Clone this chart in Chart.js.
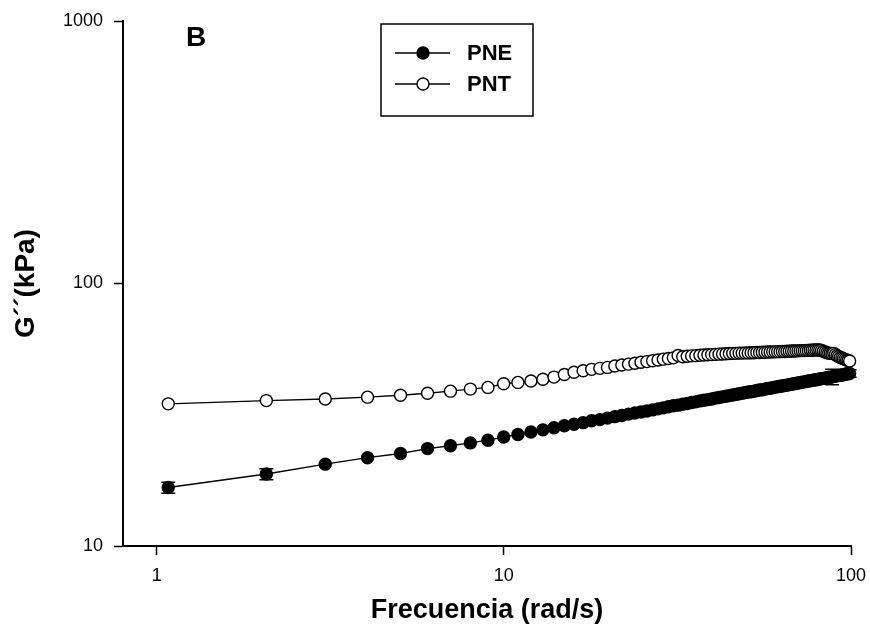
<!DOCTYPE html>
<html>
<head>
<meta charset="utf-8">
<script src="https://cdn.jsdelivr.net/npm/chart.js@4/dist/chart.umd.min.js"></script>
<style>
  html, body { margin: 0; padding: 0; background: #fff; }
  #wrap { width: 870px; height: 641px; }
</style>
</head>
<body>
<div id="wrap"><canvas id="c" width="870" height="641"></canvas></div>
<script>
// Angular frequency sweep (rad/s)
const freq = [
  1.08, 2.07, 3.06, 4.05, 5.04, 6.03, 7.02, 8.01, 9.00, 9.99,
  10.98, 11.97, 12.96, 13.95, 14.94, 15.93, 16.92, 17.91, 18.90, 19.89,
  20.88, 21.87, 22.86, 23.85, 24.84, 25.83, 26.82, 27.81, 28.80, 29.79,
  30.78, 31.77, 32.76, 33.75, 34.74, 35.73, 36.72, 37.71, 38.70, 39.69,
  40.68, 41.67, 42.66, 43.65, 44.64, 45.63, 46.62, 47.61, 48.60, 49.59,
  50.58, 51.57, 52.56, 53.55, 54.54, 55.53, 56.52, 57.51, 58.50, 59.49,
  60.48, 61.47, 62.46, 63.45, 64.44, 65.43, 66.42, 67.41, 68.40, 69.39,
  70.38, 71.37, 72.36, 73.35, 74.34, 75.33, 76.32, 77.31, 78.30, 79.29,
  80.28, 81.27, 82.26, 83.25, 84.24, 85.23, 86.22, 87.21, 88.20, 89.19,
  90.18, 91.17, 92.16, 93.15, 94.14, 95.13, 96.12, 97.11, 98.10, 99.09
];

// Loss modulus G'' (kPa)
const pne = [
  16.7, 18.8, 20.5, 21.7, 22.5, 23.5, 24.1, 24.7, 25.3, 26.0,
  26.6, 27.2, 27.7, 28.2, 28.7, 29.1, 29.5, 30.0, 30.3, 30.7,
  31.1, 31.4, 31.8, 32.1, 32.4, 32.7, 33.0, 33.3, 33.6, 33.9,
  34.2, 34.4, 34.7, 34.9, 35.2, 35.4, 35.7, 35.9, 36.1, 36.3,
  36.6, 36.8, 37.0, 37.2, 37.4, 37.6, 37.8, 38.0, 38.2, 38.4,
  38.6, 38.7, 38.9, 39.1, 39.3, 39.4, 39.6, 39.8, 39.9, 40.1,
  40.3, 40.4, 40.6, 40.7, 40.9, 41.0, 41.2, 41.3, 41.5, 41.6,
  41.8, 41.9, 42.1, 42.2, 42.3, 42.5, 42.6, 42.7, 42.9, 43.0,
  43.1, 43.3, 43.4, 43.5, 43.6, 43.8, 43.9, 44.0, 44.1, 44.2,
  44.4, 44.5, 44.6, 44.7, 44.8, 44.9, 45.1, 45.2, 45.3, 45.4
];

const pnt = [
  34.8, 35.8, 36.3, 36.9, 37.5, 38.2, 38.9, 39.6, 40.2, 41.5,
  42.0, 42.5, 43.2, 44.0, 45.0, 45.9, 46.5, 47.1, 47.5, 47.9,
  48.5, 48.9, 49.3, 49.7, 50.1, 50.4, 50.8, 51.1, 51.5, 51.8,
  52.1, 53.2, 52.6, 52.8, 53.0, 53.1, 53.3, 53.4, 53.5, 53.6,
  53.7, 53.8, 53.9, 54.0, 54.1, 54.2, 54.2, 54.3, 54.3, 54.4,
  54.4, 54.5, 54.5, 54.6, 54.6, 54.7, 54.7, 54.8, 54.8, 54.9,
  54.9, 55.0, 55.0, 55.1, 55.1, 55.2, 55.2, 55.3, 55.3, 55.4,
  55.4, 55.5, 55.5, 55.5, 55.6, 55.6, 55.7, 55.7, 55.8, 55.8,
  55.8, 55.8, 55.6, 55.2, 54.8, 54.5, 54.3, 54.2, 54.1, 54.2,
  53.6, 53.1, 52.7, 52.3, 52.0, 51.7, 51.4, 51.1, 50.9, 50.7
];

// Standard deviation bars on PNE (point index -> ± kPa)
const pneErrIndex = [0, 1, 88, 99];
const pneErrValue = [0.8, 0.9, 3.0, 1.5];

const xTickValues = [1, 10, 100];
const yTickValues = [10, 100, 1000];
const seriesNames = ['PNE', 'PNT'];
const panelLetter = 'B';

const FONT = "'Liberation Sans', Arial, Helvetica, sans-serif";
Chart.defaults.font.family = FONT;
Chart.defaults.color = '#000';

const toPoints = (ys) => freq.map((f, i) => ({ x: f, y: ys[i] }));

// Error bars drawn under the markers
const errorBars = {
  id: 'errorBars',
  beforeDatasetsDraw(chart) {
    const { ctx, scales: { x, y } } = chart;
    ctx.save();
    ctx.strokeStyle = '#000';
    ctx.lineWidth = 1.5;
    pneErrIndex.forEach((idx, k) => {
      const px = x.getPixelForValue(freq[idx]);
      const yHi = y.getPixelForValue(pne[idx] + pneErrValue[k]);
      const yLo = y.getPixelForValue(pne[idx] - pneErrValue[k]);
      ctx.beginPath();
      ctx.moveTo(px, yHi); ctx.lineTo(px, yLo);
      ctx.moveTo(px - 7, yHi); ctx.lineTo(px + 7, yHi);
      ctx.moveTo(px - 7, yLo); ctx.lineTo(px + 7, yLo);
      ctx.stroke();
    });
    ctx.restore();
  }
};

// Boxed legend and panel letter inside the plot
const annotations = {
  id: 'annotations',
  afterDraw(chart) {
    const { ctx } = chart;
    ctx.save();
    ctx.fillStyle = '#000';
    ctx.font = `bold 28px ${FONT}`;
    ctx.textAlign = 'left';
    ctx.textBaseline = 'alphabetic';
    ctx.fillText(panelLetter, 186, 46);

    const bx = 381, by = 24, bw = 152, bh = 92;
    ctx.lineWidth = 1.5;
    ctx.strokeStyle = '#000';
    ctx.strokeRect(bx, by, bw, bh);

    const rows = [53, 84];
    chart.data.datasets.forEach((ds, i) => {
      const ry = rows[i];
      ctx.beginPath();
      ctx.lineWidth = 1.4;
      ctx.moveTo(395, ry); ctx.lineTo(450, ry);
      ctx.stroke();
      ctx.beginPath();
      ctx.arc(423, ry, 6, 0, Math.PI * 2);
      ctx.fillStyle = ds.pointBackgroundColor;
      ctx.fill();
      ctx.lineWidth = 1.4;
      ctx.stroke();
      ctx.fillStyle = '#000';
      ctx.font = `bold 22px ${FONT}`;
      ctx.textBaseline = 'middle';
      ctx.fillText(ds.label, 467, ry + 1);
    });
    ctx.restore();
  }
};

const lineStyle = {
  borderColor: '#000',
  borderWidth: 1.4,
  pointRadius: 6,
  pointBorderWidth: 1.4,
  pointBorderColor: '#000',
  pointHoverRadius: 6,
  tension: 0,
  clip: false
};

new Chart(document.getElementById('c'), {
  type: 'line',
  data: {
    datasets: [
      { ...lineStyle, label: seriesNames[0], data: toPoints(pne), pointBackgroundColor: '#000', backgroundColor: '#000' },
      { ...lineStyle, label: seriesNames[1], data: toPoints(pnt), pointBackgroundColor: '#fff', backgroundColor: '#fff' }
    ]
  },
  options: {
    responsive: false,
    devicePixelRatio: 1,
    animation: false,
    layout: { padding: { left: 0, right: 19, top: 21, bottom: 0 } },
    plugins: { legend: { display: false }, tooltip: { enabled: false } },
    scales: {
      x: {
        type: 'logarithmic',
        position: 'bottom',
        min: 0.8,
        max: 100,
        afterBuildTicks: (s) => { s.ticks = xTickValues.map(v => ({ value: v })); },
        afterFit: (s) => { s.height = 95; s.paddingLeft = 0; s.paddingRight = 0; },
        ticks: {
          autoSkip: false, maxRotation: 0, padding: 10,
          font: { size: 18 }, color: '#000',
          callback: (v) => String(v)
        },
        grid: { drawOnChartArea: false, drawTicks: true, tickLength: 9, tickColor: '#000', tickWidth: 1.5 },
        border: { display: true, color: '#000', width: 2 },
        title: { display: true, text: 'Frecuencia (rad/s)', color: '#000', font: { size: 27, weight: 'bold' }, padding: { top: 0, bottom: 14 } }
      },
      y: {
        type: 'logarithmic',
        position: 'left',
        min: 10,
        max: 1000,
        afterBuildTicks: (s) => { s.ticks = yTickValues.map(v => ({ value: v })); },
        afterFit: (s) => { s.width = 123; s.paddingTop = 0; s.paddingBottom = 0; },
        ticks: {
          autoSkip: false, padding: 11,
          font: { size: 18 }, color: '#000',
          callback: (v) => String(v)
        },
        grid: { drawOnChartArea: false, drawTicks: true, tickLength: 9, tickColor: '#000', tickWidth: 1.5 },
        border: { display: true, color: '#000', width: 2 },
        title: { display: true, text: 'G\u00B4\u00B4(kPa)', color: '#000', font: { size: 28, weight: 'bold' }, padding: { top: 9, bottom: 0 } }
      }
    }
  },
  plugins: [errorBars, annotations]
});
</script>
</body>
</html>
